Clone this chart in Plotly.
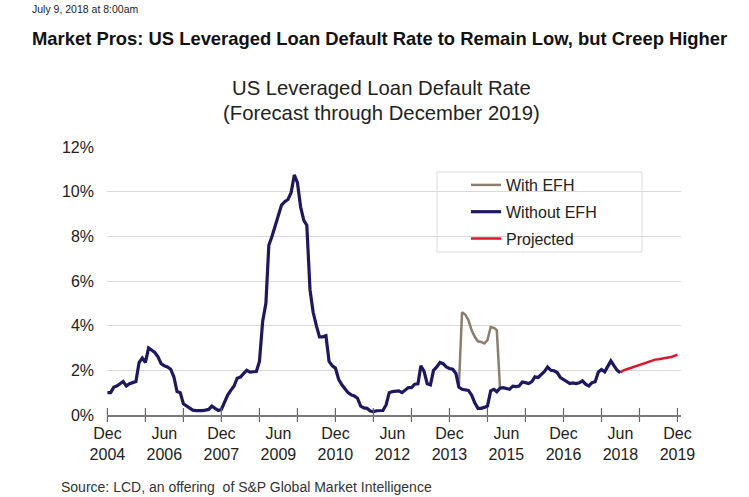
import pandas as pd
import plotly.graph_objs as go

# === Data (monthly, % default rate) ===
start_month = "2004-12-01"

# Without EFH: Dec 2004 .. Jun 2018
without_efh = [
    1.0, 1.0, 1.25, 1.3, 1.4, 1.5, 1.3, 1.4, 1.45, 1.5, 2.35, 2.55,      # Dec04-Nov05
    2.35, 3.0, 2.9, 2.8, 2.6, 2.3, 2.2, 2.15, 2.05, 1.7, 1.05, 1.0,      # Dec05-Nov06
    0.5, 0.4, 0.3, 0.22, 0.2, 0.19, 0.2, 0.22, 0.25, 0.4, 0.3, 0.2,      # Dec06-Nov07
    0.25, 0.6, 0.9, 1.1, 1.3, 1.65, 1.7, 1.85, 2.0, 1.92, 1.95, 1.95,    # Dec07-Nov08
    2.4, 4.2, 5.0, 7.6, 8.0, 8.5, 9.0, 9.4, 9.55, 9.65, 9.95, 10.75,     # Dec08-Nov09
    10.4, 9.3, 8.7, 8.5, 5.6, 4.6, 4.0, 3.5, 3.5, 3.55, 2.4, 2.2,        # Dec09-Nov10
    2.1, 1.6, 1.35, 1.2, 1.0, 0.9, 0.85, 0.75, 0.4, 0.32, 0.3, 0.18,     # Dec10-Nov11
    0.15, 0.19, 0.19, 0.2, 0.45, 1.0, 1.05, 1.07, 1.08, 1.0, 1.1, 1.23,  # Dec11-Nov12
    1.23, 1.38, 1.4, 2.2, 1.95, 1.4, 1.35, 2.0, 2.15, 2.35, 2.3, 2.15,   # Dec12-Nov13
    2.08, 2.05, 1.86, 1.25, 1.15, 1.12, 1.1, 0.9, 0.55, 0.3, 0.3, 0.34,  # Dec13-Nov14
    0.4, 1.08, 1.15, 1.04, 1.2, 1.22, 1.2, 1.15, 1.29, 1.27, 1.3, 1.48,  # Dec14-Nov15
    1.45, 1.41, 1.5, 1.71, 1.68, 1.8, 1.95, 2.15, 2.0, 1.98, 1.9, 1.68,  # Dec15-Nov16
    1.58, 1.5, 1.41, 1.44, 1.41, 1.44, 1.53, 1.38, 1.3, 1.45, 1.49, 1.93, # Dec16-Nov17
    2.04, 1.93, 2.16, 2.42, 2.2, 2.0, 1.9,                               # Dec17-Jun18
]

# With EFH: Mar 2014 .. Apr 2015
with_efh_start = "2014-03-01"
with_efh = [1.25, 4.6, 4.5, 4.25, 3.8, 3.5, 3.3, 3.27, 3.2, 3.35, 3.94, 3.9, 3.8, 1.2]

# Projected: Jun 2018 .. Dec 2019
projected_start = "2018-06-01"
projected = [1.9, 2.0, 2.05, 2.1, 2.15, 2.19, 2.24, 2.29, 2.34, 2.39,
             2.44, 2.48, 2.5, 2.52, 2.53, 2.56, 2.6, 2.65, 2.7]

# Axis labels (every 18 months) and tick marks (every December)
label_dates = ["2004-12-01", "2006-06-01", "2007-12-01", "2009-06-01", "2010-12-01", "2012-06-01",
               "2013-12-01", "2015-06-01", "2016-12-01", "2018-06-01", "2019-12-01"]
label_month = ["Dec", "Jun", "Dec", "Jun", "Dec", "Jun", "Dec", "Jun", "Dec", "Jun", "Dec"]
label_year = ["2004", "2006", "2007", "2009", "2010", "2012", "2013", "2015", "2016", "2018", "2019"]
tick_dates = [f"{y}-12-01" for y in range(2004, 2020)]
y_ticks = [0, 2, 4, 6, 8, 10, 12]
y_text = ["0%", "2%", "4%", "6%", "8%", "10%", "12%"]

# === Styling ===
FONT = "Liberation Sans, Arial, sans-serif"
TXT = "#222222"
W, H = 749, 497
L, R, T, B = 107, 681, 147, 415   # plot area in pixels
x_range = ["2004-11-27", "2020-01-04"]


def px(x):
    return (x - L) / (R - L)


def py(y):
    return (B - y) / (B - T)


dates = pd.date_range(start_month, periods=len(without_efh), freq="MS")
dates_efh = pd.date_range(with_efh_start, periods=len(with_efh), freq="MS")
dates_proj = pd.date_range(projected_start, periods=len(projected), freq="MS")

fig = go.Figure()

fig.add_trace(go.Scatter(
    x=dates_efh, y=with_efh, mode="lines", name="With EFH",
    line=dict(color="#8a7f6e", width=2.5), legendgroup="a"
))
fig.add_trace(go.Scatter(
    x=dates, y=without_efh, mode="lines", name="Without EFH",
    line=dict(color="#1e1862", width=3.2), legendgroup="b"
))
fig.add_trace(go.Scatter(
    x=dates_proj, y=projected, mode="lines", name="Projected",
    line=dict(color="#e0142d", width=2.5), legendgroup="c"
))

# tick marks crossing the axis
fig.add_trace(go.Scatter(
    x=tick_dates, y=[0] * len(tick_dates), mode="markers", showlegend=False,
    marker=dict(symbol="line-ns", size=10, line=dict(color="#666666", width=1.2)),
    cliponaxis=False, hoverinfo="skip"
))

# second row of x labels (years)
fig.add_trace(go.Scatter(
    x=label_dates, y=[None] * len(label_dates), xaxis="x2", showlegend=False, hoverinfo="skip"
))

fig.add_shape(type="rect", xref="paper", yref="paper",
              x0=px(437), x1=px(642), y0=py(252), y1=py(172),
              line=dict(color="#dcdcdc", width=1), fillcolor="white", layer="below")

annotations = [
    dict(text="July 9, 2018 at 8:00am", x=px(30), y=py(9), xanchor="left", yanchor="middle",
         font=dict(family=FONT, size=10.5, color=TXT)),
    dict(text="<b>Market Pros: US Leveraged Loan Default Rate to Remain Low, but Creep Higher</b>",
         x=px(30), y=py(38), xanchor="left", yanchor="middle",
         font=dict(family=FONT, size=18.4, color="#111111")),
    dict(text="US Leveraged Loan Default Rate", x=px(381), y=py(88), xanchor="center", yanchor="middle",
         font=dict(family=FONT, size=20.3, color=TXT)),
    dict(text="(Forecast through December 2019)", x=px(381), y=py(113), xanchor="center", yanchor="middle",
         font=dict(family=FONT, size=20.3, color=TXT)),
    dict(text="Source: LCD, an offering  of S&P Global Market Intelligence", x=px(59), y=py(487),
         xanchor="left", yanchor="middle", font=dict(family=FONT, size=14, color="#333333")),
]
for a in annotations:
    a.update(xref="paper", yref="paper", showarrow=False)

fig.update_layout(
    width=W, height=H,
    margin=dict(l=L, r=W - R, t=T, b=H - B),
    paper_bgcolor="white", plot_bgcolor="white",
    annotations=annotations,
    showlegend=True,
    legend=dict(x=px(466), y=py(168), xanchor="left", yanchor="top",
                bgcolor="rgba(0,0,0,0)", borderwidth=0, tracegroupgap=3,
                traceorder="grouped",
                font=dict(family=FONT, size=16, color=TXT)),
    xaxis=dict(
        type="date", range=x_range, automargin=False,
        tickmode="array", tickvals=label_dates, ticktext=label_month,
        ticks="", showgrid=False, zeroline=False,
        showline=True, linecolor="#7a7a7a", linewidth=1.5,
        tickfont=dict(family=FONT, size=16, color=TXT),
        ticklabelstandoff=3,
    ),
    xaxis2=dict(
        type="date", range=x_range, automargin=False, overlaying="x", anchor="y", side="bottom",
        tickmode="array", tickvals=label_dates, ticktext=label_year,
        ticks="", showgrid=False, zeroline=False, showline=False,
        tickfont=dict(family=FONT, size=16, color=TXT),
        ticklabelstandoff=28,
    ),
    yaxis=dict(
        range=[0, 12], automargin=False, tickmode="array", tickvals=y_ticks, ticktext=y_text,
        ticks="", showgrid=True, gridcolor="#d9d9d9", gridwidth=1,
        zeroline=False, showline=False,
        tickfont=dict(family=FONT, size=16, color=TXT),
        ticklabelstandoff=12,
    ),
)

# page has a default 8px body margin; drop it so the figure fills the window
fig.write_html("out.html", config={"displayModeBar": False},
               post_script="document.body.style.margin='0';")
